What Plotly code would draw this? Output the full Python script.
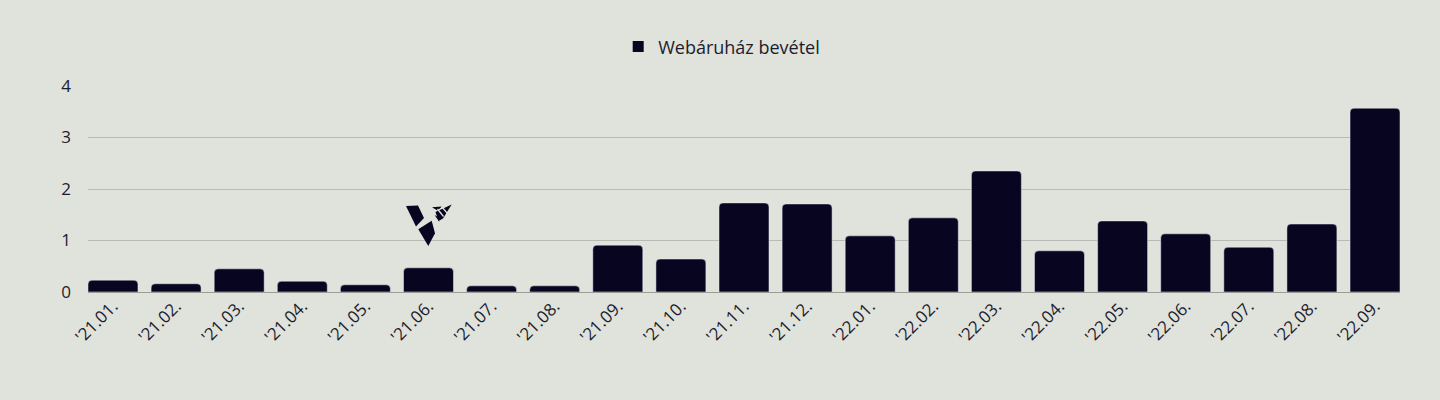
import plotly.graph_objects as go

months = ["'21.01.", "'21.02.", "'21.03.", "'21.04.", "'21.05.", "'21.06.", "'21.07.",
          "'21.08.", "'21.09.", "'21.10.", "'21.11.", "'21.12.", "'22.01.", "'22.02.",
          "'22.03.", "'22.04.", "'22.05.", "'22.06.", "'22.07.", "'22.08.", "'22.09."]
revenue = [0.23, 0.16, 0.45, 0.21, 0.14, 0.47, 0.12, 0.12, 0.91, 0.64, 1.73, 1.71,
           1.09, 1.44, 2.35, 0.80, 1.38, 1.13, 0.87, 1.32, 3.57]
series_name = "Webáruház bevétel"

BG = "#e0e2dc"
BAR = "#07051f"
FONT = "Open Sans, Noto Sans, sans-serif"
GAP = 0.208
# bars touch the plot edges, so the range is trimmed to half a bar on each side
half_bar = (1 - GAP) / 2

fig = go.Figure()
fig.add_trace(go.Bar(x=months, y=revenue, name=series_name, marker_color=BAR,
                     showlegend=False))
# square legend swatch (bar swatches pick up the corner radius)
fig.add_trace(go.Scatter(x=[None], y=[None], mode="markers", name=series_name,
                         marker=dict(symbol="square", size=11, color=BAR)))

# logo above the '21.06. bar, drawn in pixel offsets from the bar base
logo_paths = [
    "M -22.5 86 L -10.5 86.5 L -4.5 74 L -12.5 65.5 Z",
    "M -10.2 62.7 L 3.2 71.3 L 6.5 58.7 L -0.2 46 Z",
    "M 7 80 L 23.2 87.5 L 14.5 73.5 L 10 71 Z",
    "M 3.5 84.7 L 13.5 85.5 L 9 81.5 Z",
    "M 6 77 L 9.5 75 L 11 70 Z",
]
for p in logo_paths:
    fig.add_shape(type="path", path=p, xref="x", yref="y", xsizemode="pixel",
                  ysizemode="pixel", xanchor=months[5], yanchor=0,
                  fillcolor=BAR, line_width=0)
# light stripes across the rocket
for p in ["M 9 83 L 15 75.5", "M 13 85.5 L 19 78.5"]:
    fig.add_shape(type="path", path=p, xref="x", yref="y", xsizemode="pixel",
                  ysizemode="pixel", xanchor=months[5], yanchor=0,
                  line=dict(color=BG, width=1.3))

fig.update_layout(
    width=1440, height=400,
    paper_bgcolor=BG, plot_bgcolor=BG,
    margin=dict(l=88, r=40, t=86, b=108),
    font=dict(family=FONT, size=15, color="#1c1c2c"),
    bargap=GAP,
    barcornerradius=4,
    legend=dict(orientation="h", x=0.483, xanchor="center",
                y=1.1, yanchor="bottom", font=dict(size=18), itemwidth=30),
    xaxis=dict(tickangle=-45, showgrid=False, showline=False, ticks="",
               range=[-half_bar, len(months) - 1 + half_bar],
               tickfont=dict(size=17)),
    yaxis=dict(range=[0, 4], dtick=1, showgrid=True, gridcolor="#b8bab6", gridwidth=1,
               zeroline=True, zerolinecolor="#9a9c98", zerolinewidth=1,
               tickfont=dict(size=17), ticklabelstandoff=16, ticks=""),
)

fig.write_html("out.html", config={"displayModeBar": False},
               post_script="document.body.style.margin='0';")
